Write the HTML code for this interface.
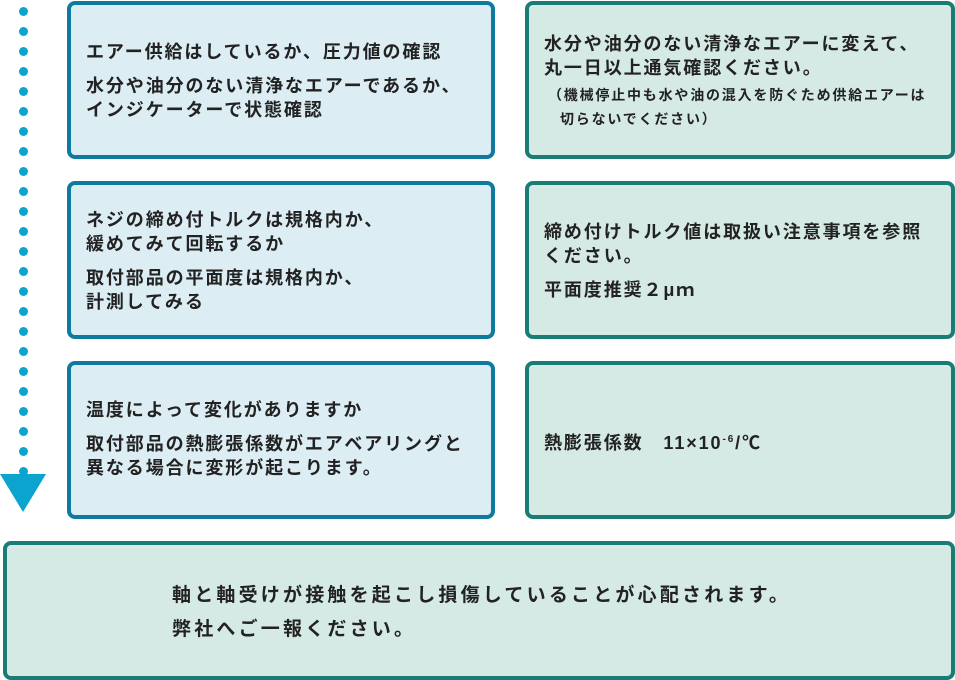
<!DOCTYPE html>
<html><head><meta charset="utf-8"><style>
body{margin:0;width:955px;height:680px;background:#fff;position:relative;overflow:hidden;font-family:"Liberation Sans","Noto Sans CJK JP",sans-serif;font-weight:bold;color:#222;}
.b{position:absolute;box-sizing:border-box;border-radius:8px;border:4px solid;}
.l{border-color:#0f7aa0;background:#dcedf4;left:67px;width:428px;}
.r{border-color:#1a7d75;background:#d5eae5;left:525px;width:430px;}
.t{position:absolute;font-size:18px;letter-spacing:1.9px;line-height:24px;white-space:nowrap;}
.s{font-size:14px;letter-spacing:1.8px;}
.d{position:absolute;left:19px;width:9px;height:9px;border-radius:50%;background:#0aa4cf;}
.big{font-size:19px;letter-spacing:3.2px;}
</style></head><body>
<div class="b l" style="top:1px;height:158px"></div>
<div class="b l" style="top:181px;height:158px"></div>
<div class="b l" style="top:361px;height:158px"></div>
<div class="b r" style="top:1px;height:158px"></div>
<div class="b r" style="top:181px;height:158px"></div>
<div class="b r" style="top:361px;height:158px"></div>
<div class="b r" style="left:3px;width:952px;top:541px;height:139px"></div>

<div class="t" style="left:86px;top:40px">エアー供給はしているか、圧力値の確認</div>
<div class="t" style="left:86px;top:74px">水分や油分のない清浄なエアーであるか、<br>インジケーターで状態確認</div>
<div class="t" style="left:86px;top:208px">ネジの締め付トルクは規格内か、<br>緩めてみて回転するか</div>
<div class="t" style="left:86px;top:266px">取付部品の平面度は規格内か、<br>計測してみる</div>
<div class="t" style="left:86px;top:398px">温度によって変化がありますか</div>
<div class="t" style="left:86px;top:432px">取付部品の熱膨張係数がエアベアリングと<br>異なる場合に変形が起こります。</div>

<div class="t" style="left:544px;top:32px">水分や油分のない清浄なエアーに変えて、<br>丸一日以上通気確認ください。</div>
<div class="t s" style="left:548px;top:83px">（機械停止中も水や油の混入を防ぐため供給エアーは</div>
<div class="t s" style="left:560px;top:107px">切らないでください）</div>
<div class="t" style="left:544px;top:220px">締め付けトルク値は取扱い注意事項を参照<br>ください。</div>
<div class="t" style="left:544px;top:278px">平面度推奨２μｍ</div>
<div class="t" style="left:544px;top:428px">熱膨張係数　11×10<sup style="font-size:10px">-6</sup>/℃</div>

<div class="t big" style="left:172px;top:584px">軸と軸受けが接触を起こし損傷していることが心配されます。</div>
<div class="t big" style="left:172px;top:618px">弊社へご一報ください。</div>

<div id="dots"></div>
<script>
var h='';for(var i=0;i<24;i++){h+='<div class="d" style="top:'+(7+i*20)+'px"></div>';}
document.getElementById('dots').innerHTML=h;
</script>
<svg style="position:absolute;left:0;top:474px" width="48" height="40"><polygon points="0,0 46,0 23,38" fill="#0aa4cf"/></svg>
</body></html>
